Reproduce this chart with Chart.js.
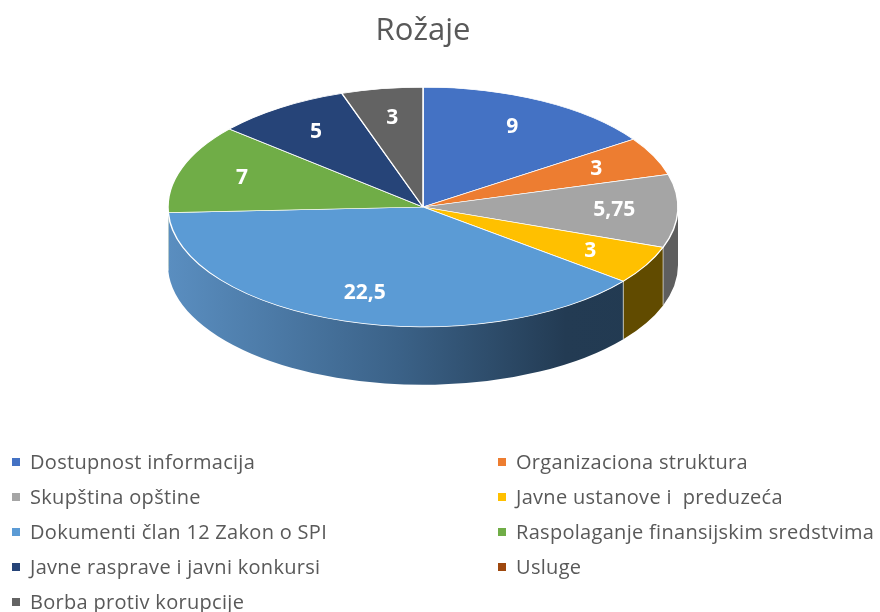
<!DOCTYPE html>
<html>
<head>
<meta charset="utf-8">
<title>Rožaje</title>
<script src="https://cdn.jsdelivr.net/npm/chart.js@4/dist/chart.umd.min.js"></script>
<style>
    html, body { margin: 0; padding: 0; background: #fff; }
    #wrap { position: relative; width: 880px; height: 612px; overflow: hidden; }
    #chart { position: absolute; left: 0; top: 0; }
    #legend { position: absolute; left: 0; top: 0; width: 880px; font-family: "Open Sans", Lato, sans-serif; font-size: 20px; letter-spacing: 0.3px; color: #595959; }
    .item { position: absolute; height: 35px; line-height: 35px; white-space: pre; }
    .box { position: absolute; left: -18px; top: 14px; width: 8px; height: 8px; }
</style>
</head>
<body>
<div id="wrap">
    <canvas id="chart" width="880" height="612"></canvas>
    <div id="legend"></div>
</div>
<script>
// Chart data
const categories = [
    'Dostupnost informacija',
    'Organizaciona struktura',
    'Skupština opštine',
    'Javne ustanove i  preduzeća',
    'Dokumenti član 12 Zakon o SPI',
    'Raspolaganje finansijskim sredstvima',
    'Javne rasprave i javni konkursi',
    'Usluge',
    'Borba protiv korupcije'
];
const values = [9, 3, 5.75, 3, 22.5, 7, 5, 0, 3];

// Styles
const colors = ['#4472C4', '#ED7D31', '#A5A5A5', '#FFC000', '#5B9BD5', '#70AD47', '#264478', '#9E480E', '#636363'];
const sideColors = ['#2f4f88', '#a3561f', '#5e5e5e', '#614b00',
    [[0, '#5a8ec0'], [0.45, '#3b6288'], [0.78, '#233b53'], [1, '#223a51']],
    '#4b7630', '#1a2f52', '#6c3109', '#444444'];

// Fake 3D: squash the library's pie and draw a side wall under it
const pie3d = {
    id: 'pie3d',
    beforeDatasetsDraw(chart, args, opts) {
        const ctx = chart.ctx;
        const arcs = chart.getDatasetMeta(0).data;
        if (!arcs.length) return;
        const { x, y, outerRadius: r } = arcs[0];
        ctx.save();
        ctx.translate(opts.cx, opts.cy);
        ctx.scale(1, opts.tilt);
        ctx.translate(-x, -y);
        const d = opts.depth / opts.tilt;

        arcs.forEach((arc, i) => {
            const a0 = Math.max(arc.startAngle, 0);
            const a1 = Math.min(arc.endAngle, Math.PI);
            if (a1 <= a0) return;
            ctx.beginPath();
            ctx.arc(x, y, r, a0, a1);
            ctx.lineTo(x + r * Math.cos(a1), y + d + r * Math.sin(a1));
            ctx.arc(x, y + d, r, a1, a0, true);
            ctx.closePath();
            const side = sideColors[i];
            if (Array.isArray(side)) {
                const g = ctx.createLinearGradient(x - r, 0, x + r, 0);
                side.forEach(s => g.addColorStop(s[0], s[1]));
                ctx.fillStyle = g;
            } else {
                ctx.fillStyle = side;
            }
            ctx.fill();
        });

        // white edges between side walls
        ctx.strokeStyle = 'rgba(255,255,255,0.8)';
        ctx.lineWidth = 1;
        arcs.forEach(arc => {
            const a = arc.endAngle;
            if (a <= 0 || a >= Math.PI) return;
            const px = x + r * Math.cos(a), py = y + r * Math.sin(a);
            ctx.beginPath();
            ctx.moveTo(px, py);
            ctx.lineTo(px, py + d);
            ctx.stroke();
        });
    },
    afterDatasetsDraw(chart, args, opts) {
        const ctx = chart.ctx;
        ctx.restore();
        const arcs = chart.getDatasetMeta(0).data;
        ctx.save();
        ctx.fillStyle = '#ffffff';
        ctx.font = 'bold 21px "Open Sans", Lato, sans-serif';
        ctx.textAlign = 'center';
        ctx.textBaseline = 'middle';
        arcs.forEach((arc, i) => {
            const v = values[i];
            if (!v) return;
            const mid = (arc.startAngle + arc.endAngle) / 2;
            const f = opts.labelPos;
            const lx = opts.cx + Math.cos(mid) * arc.outerRadius * f;
            const ly = opts.cy + Math.sin(mid) * arc.outerRadius * f * opts.tilt;
            ctx.fillText(String(v).replace('.', ','), lx, ly);
        });
        ctx.restore();
    }
};

new Chart(document.getElementById('chart'), {
    type: 'pie',
    data: {
        labels: categories,
        datasets: [{
            data: values,
            backgroundColor: colors,
            borderColor: '#ffffff',
            borderWidth: 1.5,
            clip: false
        }]
    },
    options: {
        responsive: false,
        animation: false,
        events: [],
        radius: 255,
        layout: { padding: { right: 34 } },
        plugins: {
            legend: { display: false },
            tooltip: { enabled: false },
            title: {
                display: true,
                text: 'Rožaje',
                color: '#595959',
                font: { family: '"Open Sans", Lato, sans-serif', size: 31, weight: 'normal' },
                padding: { top: 13, bottom: 10 }
            },
            pie3d: { cx: 423, cy: 207, tilt: 0.47, depth: 58, labelPos: 0.75 }
        }
    },
    plugins: [pie3d]
});

// Two-column legend under the pie
const legend = document.getElementById('legend');
categories.forEach((name, i) => {
    const item = document.createElement('div');
    item.className = 'item';
    item.style.left = (i % 2 === 0 ? 30 : 516) + 'px';
    item.style.top = (444 + Math.floor(i / 2) * 35) + 'px';
    item.textContent = name;
    const box = document.createElement('span');
    box.className = 'box';
    box.style.background = colors[i];
    item.appendChild(box);
    legend.appendChild(item);
});
</script>
</body>
</html>
